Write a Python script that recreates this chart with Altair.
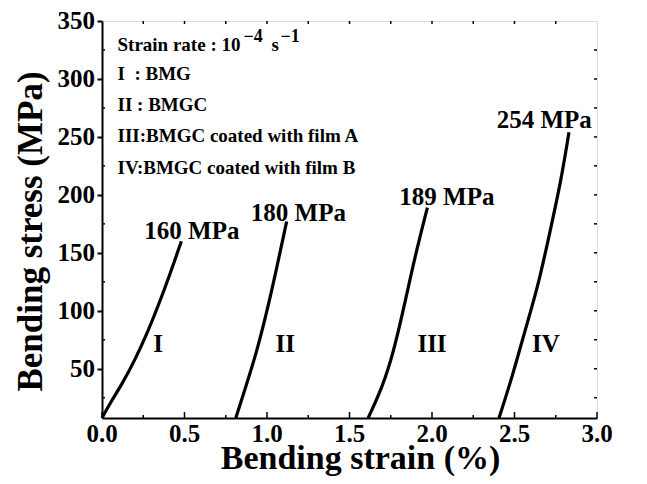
import altair as alt
import pandas as pd

# ---- data ----
strain_I = [0.0, 0.047, 0.123, 0.198, 0.264, 0.330, 0.406, 0.481]
stress_I = [7.5, 19.8, 37.1, 57.2, 77.4, 100.4, 129.0, 160.0]
strain_II = [0.811, 0.877, 0.934, 0.991, 1.047, 1.119]
stress_II = [7.5, 37.0, 63.0, 94.5, 129.0, 177.0]
strain_III = [1.613, 1.698, 1.764, 1.830, 1.896, 1.972]
stress_III = [7.5, 33.7, 62.6, 103.0, 146.4, 189.0]
strain_IV = [2.406, 2.491, 2.557, 2.642, 2.717, 2.783, 2.830]
stress_IV = [7.5, 45.2, 79.9, 120.4, 169.5, 212.9, 254.0]

peak_labels = ["160 MPa", "180 MPa", "189 MPa", "254 MPa"]
peak_x = [0.545, 1.19, 2.09, 2.68]
peak_y = [169.0, 184.0, 198.0, 265.0]

roman_labels = ["I", "II", "III", "IV"]
roman_x = [0.34, 1.11, 2.0, 2.69]
roman_y = [71.5, 71.5, 71.0, 71.0]

legend_lines = ["I\u00a0\u00a0: BMG", "II : BMGC", "III:BMGC coated with film A", "IV:BMGC coated with film B"]
legend_y = [304.5, 277.5, 251.0, 223.0]
legend_x = 0.094
strain_rate_y = 329.0

x_ticks = [0.0, 0.5, 1.0, 1.5, 2.0, 2.5, 3.0]
x_tick_labels = ["0.0", "0.5", "1.0", "1.5", "2.0", "2.5", "3.0"]
x_minor = [0.25, 0.75, 1.25, 1.75, 2.25, 2.75]
y_ticks = [50, 100, 150, 200, 250, 300, 350]
y_tick_labels = ["50", "100", "150", "200", "250", "300", "350"]
y_minor = [25, 75, 125, 175, 225, 275, 325]
top_ticks = [0.25 * i for i in range(1, 12)]
right_ticks = [25 * i for i in range(1, 14)]

W, H = 495, 397
FONT = "Liberation Serif"

xs = alt.Scale(domain=[0, 3], nice=False, zero=False)
ys = alt.Scale(domain=[7.5, 350], nice=False, zero=False)

xaxis = alt.Axis(values=x_ticks, labels=False, ticks=False, grid=False,
                 title="Bending strain (%)",
                 titleFont=FONT, titleFontSize=34, titleFontWeight="bold",
                 titleColor="black", titleX=258, titleY=50, titleAlign="center",
                 titleBaseline="alphabetic",
                 domainColor="black", domainWidth=2)
yaxis = alt.Axis(values=y_ticks, labels=False, ticks=True, tickSize=5, tickWidth=2,
                 tickColor="black", grid=False, title="Bending stress (MPa)",
                 titleFont=FONT, titleFontSize=35, titleFontWeight="bold",
                 titleColor="black", titleX=-61, titleY=210, titleAlign="center",
                 titleAngle=270, titleBaseline="alphabetic", domainColor="black",
                 domainWidth=2)

rows = []
for name, xs_, ys_ in [("I", strain_I, stress_I), ("II", strain_II, stress_II),
                       ("III", strain_III, stress_III), ("IV", strain_IV, stress_IV)]:
    for i, (a, b) in enumerate(zip(xs_, ys_)):
        rows.append({"strain": a, "stress": b, "curve": name, "order": i})
curves = pd.DataFrame(rows)

def X(f):
    return alt.X(f, scale=xs, axis=xaxis)

def Y(f):
    return alt.Y(f, scale=ys, axis=yaxis)

lines = alt.Chart(curves).mark_line(color="black", strokeWidth=3.2,
                                    interpolate="basis").encode(
    x=X("strain:Q"), y=Y("stress:Q"), detail="curve:N", order="order:Q")

def text_layer(xv, yv, tv, size, align):
    return alt.Chart(pd.DataFrame({"x": xv, "y": yv, "t": tv})).mark_text(
        font=FONT, fontSize=size, fontWeight="bold", color="black", align=align,
        baseline="middle").encode(x=X("x:Q"), y=Y("y:Q"), text="t:N")

peaks = text_layer(peak_x, peak_y, peak_labels, 25, "center")
romans = text_layer(roman_x, roman_y, roman_labels, 25, "center")
legend = text_layer([legend_x] * 4, legend_y, legend_lines, 19, "left")

sr_df = pd.DataFrame({"x": [legend_x], "y": [strain_rate_y]})
def sr_text(txt, dx, dy, size):
    return alt.Chart(sr_df).mark_text(
        font=FONT, fontSize=size, fontWeight="bold", color="black", align="left",
        baseline="middle", text=txt, dx=dx, dy=dy).encode(x=X("x:Q"), y=Y("y:Q"))

sr_parts = [sr_text("Strain rate : 10", 0, 0, 19),
            sr_text("\u22124", 126, -8, 18),
            sr_text("s", 154, 0, 19),
            sr_text("\u22121", 163, -8, 18)]

xlab = alt.Chart(pd.DataFrame({"v": x_ticks, "t": x_tick_labels})).mark_text(
    font=FONT, fontSize=25, fontWeight="bold", color="black", align="center",
    baseline="top").encode(x=X("v:Q"), y=alt.value(H + 4), text="t:N")
ylab = alt.Chart(pd.DataFrame({"v": y_ticks, "t": y_tick_labels})).mark_text(
    font=FONT, fontSize=25, fontWeight="bold", color="black", align="right",
    baseline="middle").encode(y=Y("v:Q"), x=alt.value(-7), text="t:N")

def xrule(vals, y0, y1):
    return alt.Chart(pd.DataFrame({"v": vals})).mark_rule(color="black", strokeWidth=1.5).encode(
        x=X("v:Q"), y=alt.value(y0), y2=alt.value(y1))

def yrule(vals, x0, x1):
    return alt.Chart(pd.DataFrame({"v": vals})).mark_rule(color="black", strokeWidth=1.5).encode(
        y=Y("v:Q"), x=alt.value(x0), x2=alt.value(x1))

tick_layers = [
    xrule(x_ticks, H, H - 6),
    xrule(x_minor, H, H - 3),
    xrule(top_ticks, 0, 3),
    yrule(right_ticks, W, W - 3),
    yrule(y_minor, 0, 3),
]

chart = alt.layer(lines, peaks, romans, legend, *sr_parts, xlab, ylab, *tick_layers).properties(
    width=W, height=H,
    autosize=alt.AutoSizeParams(type="none"),
    padding={"left": 94, "top": 13, "right": 42, "bottom": 58},
).configure_view(stroke="black", strokeWidth=2).configure(background="white")

chart.save("out.html", embed_options={"renderer": "svg", "actions": False})
